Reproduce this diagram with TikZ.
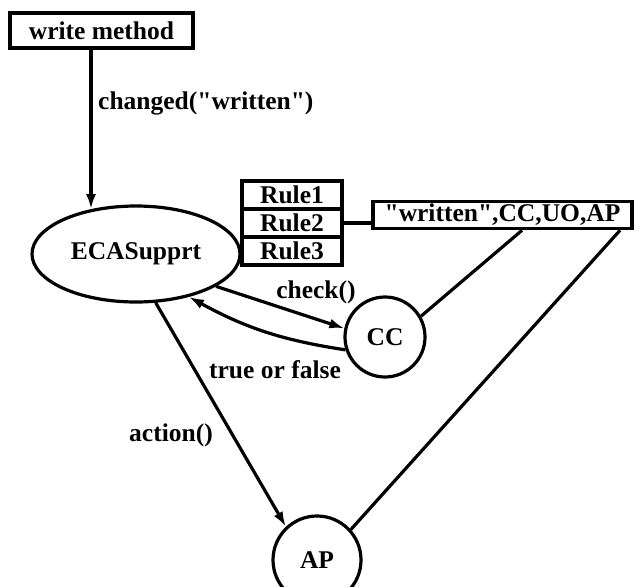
\documentclass[tikz,border=0pt]{standalone}
\usepackage{fontspec}
\setmainfont{Liberation Serif}[Ligatures=TeXOff]
\usetikzlibrary{shapes.geometric,arrows.meta}
\begin{document}
\begin{tikzpicture}[x=1pt,y=-1pt,
  every node/.style={font=\fontsize{25.5}{28}\selectfont\bfseries, inner sep=0pt},
  box/.style={draw, line width=3.6pt, rectangle},
  rulebox/.style={box, minimum width=100pt, minimum height=28pt},
  ell/.style={draw, line width=3.2pt, ellipse},
  circ/.style={draw, line width=3.2pt, circle},
  conn/.style={line width=3.2pt},
  arr/.style={conn, -{Latex[length=15pt,width=10pt]}},
  lbl/.style={}]
\useasboundingbox (0,0) rectangle (639,586);

\node[box, minimum width=183pt, minimum height=35pt] (wm) at (101.5,30.5) {write method};
\node[ell, minimum width=208pt, minimum height=96pt] (eca) at (136,254) {ECASupprt};
\node[rulebox] (r1) at (292,195) {Rule1};
\node[rulebox] (r2) at (292,223) {Rule2};
\node[rulebox] (r3) at (292,251) {Rule3};
\node[box, minimum width=259pt, minimum height=27pt] (wr) at (502.5,215) {"written",CC,UO,AP};
\node[circ, minimum size=80pt] (cc) at (385,337) {CC};
\node[circ, minimum size=88pt] (ap) at (317,560) {AP};

\node[lbl, anchor=west] (lchanged) at (98,103) {changed("written")};
\node[lbl] (lcheck) at (316,292) {check()};
\node[lbl] (ltf) at (275,370) {true or false};
\node[lbl] (laction) at (171,435) {action()};

\coordinate (wmout) at ([xshift=-10.5pt]wm.south);
\draw[arr] (wmout) -- (wmout |- eca.135);
\draw[conn] (r2.east) -- (r2.east -| wr.west);
\draw[arr] (eca.-22) -- (cc.168);
\draw[arr] (cc.198) to[bend left=10] (eca.-39);
\draw[arr] (eca.-68) -- (ap.133);
\coordinate (wrcc) at ([xshift=19.5pt]wr.south);
\coordinate (wrap) at ([xshift=117.5pt]wr.south);
\draw[conn] (cc.30) -- (wrcc);
\draw[conn] (ap.42) -- (wrap);
\end{tikzpicture}
\end{document}
